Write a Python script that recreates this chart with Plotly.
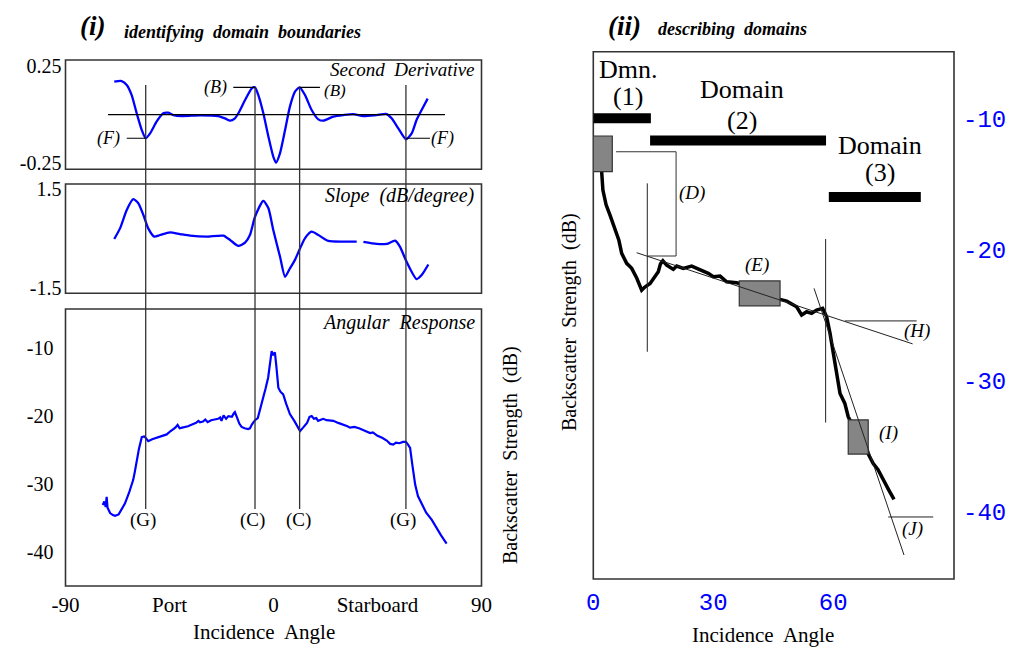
import plotly.graph_objects as go

# ---------------- Panel (i): identifying domain boundaries ----------------
sd_angle = [-68.9, -65.7, -63.5, -61.4, -59.2, -57.0, -55.3, -53.4, -50.6, -47.7, -45.5, -43.3,
            -39.7, -31.8, -23.9, -21.0, -18.8, -16.7, -15.2, -12.3, -9.4, -8.0, -6.6, -4.4, -2.2,
            -0.1, 1.1, 2.8, 5.0, 7.1, 9.3, 11.3, 13.6, 16.5, 19.4, 21.6, 25.9, 30.2, 34.5, 38.9,
            44.6, 49.0, 51.1, 54.0, 57.3, 59.8, 61.9, 64.1, 66.7]
sd_value = [0.169, 0.172, 0.152, 0.101, 0.007, -0.079, -0.121, -0.096, -0.036, 0.007, 0.010, -0.002,
            -0.007, -0.004, -0.007, -0.019, -0.031, -0.019, 0.007, 0.075, 0.135, 0.140, 0.101, 0.007,
            -0.113, -0.215, -0.246, -0.198, -0.079, 0.041, 0.118, 0.140, 0.101, 0.024, -0.024, -0.031,
            -0.010, -0.002, 0.003, -0.007, -0.002, 0.003, -0.019, -0.070, -0.126, -0.096, -0.027,
            0.024, 0.082]

slope_angle = [-68.9, -66.4, -63.5, -60.7, -58.5, -56.3, -54.2, -51.6, -49.1, -44.8, -40.5, -36.1,
               -28.9, -21.7, -18.8, -15.2, -12.3, -10.2, -8.0, -4.4, -2.2, -0.1, 2.8, 5.0, 7.1, 9.3,
               11.2, 13.6, 16.5, 19.4, 23.7, 30.2, 36.0, None, 38.9, 44.6, 49.0, 52.6, 54.7, 57.6,
               61.9, 64.1, 67.0]
slope_value = [-0.01, 0.31, 0.865, 1.19, 1.07, 0.714, 0.31, 0.06, 0.11, 0.19, 0.14, 0.09,
               0.06, 0.09, -0.04, -0.22, -0.12, 0.11, 0.66, 1.14, 0.92, 0.26, -0.54, -1.15, -0.90,
               -0.64, -0.34, 0.01, 0.21, 0.11, -0.07, -0.09, -0.09, None, -0.10, -0.16, -0.16, -0.06,
               -0.24, -0.70, -1.22, -1.10, -0.78]

ar_angle = [-73.9, -73.2, -72.6, -72.2, -71.8, -70.7, -69.5, -68.6, -67.0, -65.5, -64.3, -62.5,
            -61.5, -60.7, -60.0, -59.2, -58.2, -57.0, -56.0, -55.6, -54.8, -54.2, -52.5, -50.5,
            -48.5, -46.2, -44.5, -42.5, -41.5, -40.6, -39.5, -37.0, -35.0, -33.5, -32.5, -31.8,
            -30.5, -29.5, -28.5, -27.0, -25.5, -24.0, -23.1, -22.5, -21.6, -20.5, -19.5, -18.0,
            -17.2, -16.7, -15.8, -14.8, -13.8, -12.5, -11.0, -10.2, -9.3, -8.0, -6.8, -5.6, -4.4,
            -3.4, -2.3, -1.5, -0.8, -0.2, 0.6, 1.2, 2.1, 3.0, 4.2, 5.5, 7.1, 9.0, 11.0, 11.5,
            12.8, 14.5, 15.6, 16.5, 17.5, 18.5, 19.3, 20.1, 21.5, 23.0, 25.9, 28.0, 30.0, 32.0,
            33.1, 35.0, 37.0, 39.0, 40.5, 41.8, 43.0, 45.0, 47.0, 49.0, 50.5, 51.8, 53.0, 54.5,
            56.0, 57.3, 58.2, 59.1, 60.0, 61.3, 62.5, 64.1, 66.0, 68.5, 70.5, 72.5, 74.9]
ar_db = [-33.1, -32.6, -33.4, -31.9, -33.5, -34.3, -34.6, -34.7, -34.5, -33.6, -32.9, -31.3,
         -30.3, -29.4, -28.2, -26.5, -24.8, -23.1, -23.0, -23.1, -23.5, -23.7, -23.4, -23.2,
         -23.0, -22.7, -22.2, -21.7, -21.3, -21.8, -21.7, -21.5, -21.2, -21.0, -20.7, -20.9,
         -20.8, -20.5, -20.9, -20.6, -20.5, -20.4, -20.2, -20.7, -19.9, -20.4, -20.0, -20.1,
         -19.6, -19.4, -20.2, -21.1, -21.6, -21.8, -21.9, -21.8, -21.2, -20.6, -20.3, -18.8,
         -17.5, -15.9, -14.3, -11.7, -10.4, -11.0, -10.6, -12.5, -15.8, -16.4, -16.8, -18.2,
         -19.7, -20.7, -22.0, -22.2, -21.7, -21.0, -20.1, -20.0, -20.4, -20.3, -20.7, -20.6,
         -20.4, -20.6, -20.7, -21.0, -21.2, -21.5, -21.7, -21.6, -21.8, -22.1, -22.3, -22.5,
         -22.4, -22.9, -23.2, -23.6, -24.1, -24.2, -23.9, -24.0, -23.8, -23.8, -24.2, -24.7,
         -27.0, -30.1, -31.8, -32.9, -34.2, -35.3, -36.5, -37.6, -38.8]

boundary_angles = [-55.3, -8.0, 11.3, 57.3]
boundary_labels = ["(G)", "(C)", "(C)", "(G)"]
boundary_label_angles = [-56.5, -8.9, 11.0, 55.9]

left_xticks = [-90, -45, 0, 45, 90]
left_xticktext = ["-90", "Port", "0", "Starboard", "90"]

# ---------------- Panel (ii): describing domains ----------------
bs_angle = [1.5, 2.1, 2.4, 3.2, 4.2, 5.4, 6.4, 7.1, 8.35, 9.6, 10.85, 12.1, 12.9, 14.2, 15.2,
            16.25, 16.8, 17.4, 18.35, 20.0, 20.85, 22.5, 24.6, 26.7, 28.75, 30.0, 31.7, 33.35,
            35.85, 40.85, 46.7, 48.35, 50.85, 52.1, 53.35, 54.6, 55.85, 57.35, 58.35, 59.2,
            60.4, 61.7, 62.9, 63.75, 68.75, 70.0, 71.2, 72.5, 73.9, 75.2]
bs_db = [-13.0, -14.1, -15.47, -16.6, -17.4, -18.4, -19.3, -20.3, -21.06, -21.44, -22.18, -23.1,
         -22.87, -22.59, -22.1, -21.7, -21.1, -20.86, -21.19, -21.52, -21.27, -21.44, -21.27,
         -21.57, -21.82, -22.08, -22.03, -22.46, -22.54, -22.97, -23.81, -23.94, -24.37, -25.0,
         -24.75, -24.87, -24.62, -24.49, -25.13, -26.4, -28.44, -30.98, -31.74, -32.76, -35.6,
         -36.32, -36.8, -37.59, -38.35, -39.06]

domain_names = ["Dmn.", "Domain", "Domain"]
domain_numbers = ["(1)", "(2)", "(3)"]
domain_start = [0.0, 14.2, 58.9]
domain_end = [14.4, 58.2, 81.9]
domain_level = [-10.0, -11.7, -16.0]

window_labels = ["(A)", "(E)", "(I)"]
window_x0 = [0.0, 36.5, 63.75]
window_x1 = [4.75, 46.7, 68.75]
window_y0 = [-11.35, -22.4, -33.0]
window_y1 = [-14.07, -24.3, -35.6]

right_xticks = [0, 30, 60]
right_xticktext = ["0", "30", "60"]
right_yticks = [-40, -30, -20, -10]
right_yticktext = ["-40", "-30", "-20", "-10"]

BLUE = "#0000ff"
SERIF = "Liberation Serif"
MONO = "Liberation Mono"
FRAME = "#333333"

fig = go.Figure()

# blue curves (panel i)
fig.add_trace(go.Scatter(x=sd_angle, y=sd_value, xaxis="x", yaxis="y", mode="lines",
                         line=dict(color=BLUE, width=2.3, shape="spline", smoothing=0.6),
                         hoverinfo="skip", showlegend=False))
fig.add_trace(go.Scatter(x=slope_angle, y=slope_value, xaxis="x", yaxis="y2", mode="lines",
                         line=dict(color=BLUE, width=2.3, shape="spline", smoothing=0.6),
                         connectgaps=False, hoverinfo="skip", showlegend=False))
fig.add_trace(go.Scatter(x=ar_angle, y=ar_db, xaxis="x", yaxis="y3", mode="lines",
                         line=dict(color=BLUE, width=2.2), hoverinfo="skip", showlegend=False))
# black curve (panel ii)
fig.add_trace(go.Scatter(x=bs_angle, y=bs_db, xaxis="x2", yaxis="y4", mode="lines",
                         line=dict(color="black", width=3.5), hoverinfo="skip", showlegend=False))

shapes = []
# panel frames
for xr, yr in [("x", "y"), ("x", "y2"), ("x", "y3"), ("x2", "y4")]:
    shapes.append(dict(type="rect", xref=xr + " domain", yref=yr + " domain", x0=0, x1=1, y0=0, y1=1,
                       line=dict(color=FRAME, width=1.6), layer="above"))

# zero line in second-derivative panel
shapes.append(dict(type="line", xref="x", yref="y", x0=-71.6, x1=74.2, y0=0, y1=0,
                   line=dict(color="black", width=1.2)))

# boundary lines crossing the three left panels
for i, a in enumerate(boundary_angles):
    top = 1 - 85 / 647 if boundary_labels[i] == "(G)" else 1 - 87 / 647
    shapes.append(dict(type="line", xref="x", yref="paper", x0=a, x1=a, y0=1 - 509 / 647, y1=top,
                       line=dict(color=FRAME, width=1.3)))

# (B) and (F) leader lines
for x0, x1, y in [(-17.4, -8.0, 0.140), (11.3, 20.1, 0.140), (-63.5, -55.3, -0.121), (57.3, 67.7, -0.121)]:
    shapes.append(dict(type="line", xref="x", yref="y", x0=x0, x1=x1, y0=y, y1=y,
                       line=dict(color="black", width=1.2)))

# domain bars (panel ii)
for s, e, lv in zip(domain_start, domain_end, domain_level):
    shapes.append(dict(type="line", xref="x2", yref="y4", x0=s, x1=e, y0=lv, y1=lv,
                       line=dict(color="black", width=10)))

# gray analysis windows
for x0, x1, y0, y1 in zip(window_x0, window_x1, window_y0, window_y1):
    shapes.append(dict(type="rect", xref="x2", yref="y4", x0=x0, x1=x1, y0=y0, y1=y1,
                       fillcolor="#858585", line=dict(color="#333333", width=1.2), layer="above"))

# (D) bracket
shapes.append(dict(type="path", xref="x2", yref="y4",
                   path="M 5.7,-12.55 L 20.7,-12.55 L 20.7,-20.5 L 13.7,-20.5",
                   line=dict(color="#333333", width=1), layer="above"))
# domain-boundary vertical lines
shapes.append(dict(type="line", xref="x2", yref="y4", x0=13.5, x1=13.5, y0=-14.96, y1=-27.8,
                   line=dict(color="#222222", width=1)))
shapes.append(dict(type="line", xref="x2", yref="y4", x0=58.1, x1=58.1, y0=-19.2, y1=-33.2,
                   line=dict(color="#222222", width=1)))
# tangent lines (H), (I)/(J)
for x0, y0, x1, y1 in [(10.85, -20.25, 79.85, -27.2), (62.9, -25.45, 80.85, -25.45),
                       (55.2, -22.97, 77.7, -43.3), (73.75, -40.4, 85.0, -40.4)]:
    shapes.append(dict(type="line", xref="x2", yref="y4", x0=x0, y0=y0, x1=x1, y1=y1,
                       line=dict(color="#222222", width=1), layer="above"))

ann = []


def txt(text, x, y, xref, yref, size, xanchor="center", yanchor="middle", color="black",
        family=SERIF, angle=0):
    ann.append(dict(text=text, x=x, y=y, xref=xref, yref=yref, showarrow=False,
                    xanchor=xanchor, yanchor=yanchor, textangle=angle,
                    font=dict(family=family, size=size, color=color)))


# titles
txt("<b><i>(i)</i></b>", 92 / 1010, 1 - 26 / 647, "paper", "paper", 27)
txt("<b><i>identifying\u00a0 domain\u00a0 boundaries</i></b>", 122 / 1010, 1 - 32 / 647, "paper", "paper", 18,
    xanchor="left")
txt("<b><i>(ii)</i></b>", 624 / 1010, 1 - 26 / 647, "paper", "paper", 27)
txt("<b><i>describing\u00a0 domains</i></b>", 656 / 1010, 1 - 29 / 647, "paper", "paper", 18, xanchor="left")

# panel labels
txt("<i>Second\u00a0 Derivative</i>", 0.9885, 0.915, "x domain", "y domain", 19, xanchor="right")
txt("<i>Slope\u00a0 (dB/degree)</i>", 0.9885, 0.899, "x domain", "y2 domain", 20, xanchor="right")
txt("<i>Angular\u00a0 Response</i>", 0.9885, 0.9505, "x domain", "y3 domain", 20, xanchor="right")

# (B),(F)
txt("<i>(B)</i>", -25.3, 0.140, "x", "y", 18)
txt("<i>(B)</i>", 26.6, 0.126, "x", "y", 17)
txt("<i>(F)</i>", -71.6, -0.121, "x", "y", 18)
txt("<i>(F)</i>", 73.3, -0.121, "x", "y", 18)
# (G),(C)
for lab, a in zip(boundary_labels, boundary_label_angles):
    txt(lab, a, -35.3, "x", "y3", 19)

# axis titles
txt("Incidence\u00a0 Angle", 264 / 1010, 1 - 632 / 647, "paper", "paper", 21)
txt("Incidence\u00a0 Angle", 763 / 1010, 1 - 635 / 647, "paper", "paper", 21)
txt("Backscatter\u00a0 Strength\u00a0 (dB)", 510 / 1010, 1 - 455 / 647, "paper", "paper", 20, angle=-90)
txt("Backscatter\u00a0 Strength\u00a0 (dB)", 569 / 1010, 1 - 322 / 647, "paper", "paper", 20, angle=-90)

# domain labels
name_pos = [(8.7, -6.31, -8.37), (37.1, -7.84, -10.13), (71.7, -12.04, -14.17)]
for nm, num, (xx, yn, ynum) in zip(domain_names, domain_numbers, name_pos):
    txt(nm, xx, yn, "x2", "y4", 26)
    txt(num, xx, ynum, "x2", "y4", 26)

# small italic labels in panel ii
for lab, xx, yy in [("(A)", -4.15, -12.04), ("(D)", 24.6, -15.7), ("(E)", 40.9, -21.2),
                    ("(H)", 80.85, -26.2), ("(I)", 73.7, -34.0), ("(J)", 79.85, -41.3)]:
    txt("<i>" + lab + "</i>", xx, yy, "x2", "y4", 19)

axis_common = dict(showgrid=False, zeroline=False, showline=False, ticks="", fixedrange=True,
                   automargin=False)

fig.update_layout(
    width=1010, height=647,
    margin=dict(l=0, r=0, t=0, b=0, pad=0, autoexpand=False),
    paper_bgcolor="white", plot_bgcolor="white",
    showlegend=False,
    shapes=shapes, annotations=ann,
    xaxis=dict(domain=[65.5 / 1010, 481.5 / 1010], range=[-90, 90], anchor="y3",
               tickmode="array", tickvals=left_xticks, ticktext=left_xticktext,
               tickfont=dict(family=SERIF, size=21, color="black"), ticklabelstandoff=4,
               **axis_common),
    yaxis=dict(domain=[1 - 169.3 / 647, 1 - 60 / 647], range=[-0.28, 0.28], anchor="x",
               tickmode="array", tickvals=[-0.25, 0.25], ticktext=["-0.25", "0.25"],
               tickfont=dict(family=SERIF, size=20, color="black"), ticklabelstandoff=3,
               **axis_common),
    yaxis2=dict(domain=[1 - 293.3 / 647, 1 - 184 / 647], range=[-1.65, 1.65], anchor="x",
                tickmode="array", tickvals=[-1.5, 1.5], ticktext=["-1.5", "1.5"],
                tickfont=dict(family=SERIF, size=20, color="black"), ticklabelstandoff=3,
                **axis_common),
    yaxis3=dict(domain=[1 - 586 / 647, 1 - 309 / 647], range=[-45.06, -4.2], anchor="x",
                tickmode="array", tickvals=[-40, -30, -20, -10], ticktext=["-40", "-30", "-20", "-10"],
                tickfont=dict(family=SERIF, size=20, color="black"), ticklabelstandoff=11,
                **axis_common),
    xaxis2=dict(domain=[593.3 / 1010, 954 / 1010], range=[0, 90.2], anchor="y4",
                tickmode="array", tickvals=right_xticks, ticktext=right_xticktext,
                tickfont=dict(family=MONO, size=24, color=BLUE), ticklabelstandoff=6,
                **axis_common),
    yaxis4=dict(domain=[1 - 579 / 647, 1 - 51.7 / 647], range=[-45.13, -4.92], anchor="x2",
                side="right", tickmode="array", tickvals=right_yticks, ticktext=right_yticktext,
                tickfont=dict(family=MONO, size=24, color=BLUE), ticklabelstandoff=8,
                **axis_common),
)

fig.write_html("out.html", config={"displayModeBar": False, "staticPlot": False},
               post_script="document.body.style.margin='0';document.body.style.overflow='hidden';")
